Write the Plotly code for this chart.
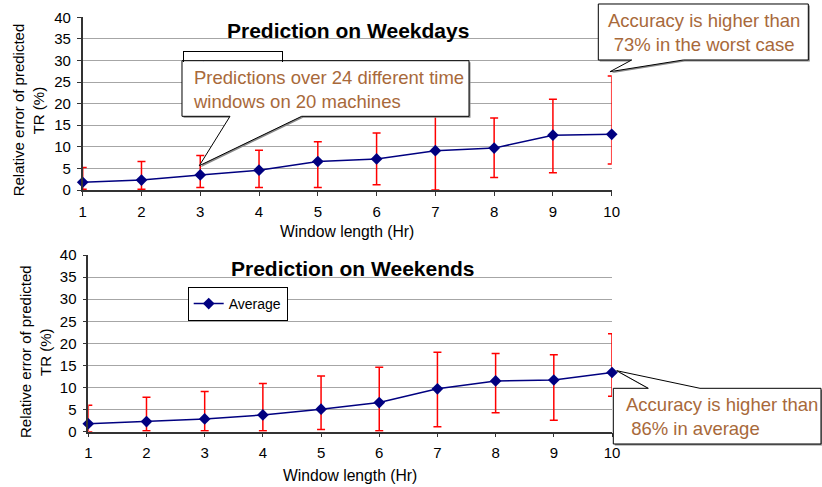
import plotly.graph_objects as go

# ---------------- data ----------------
window_hr = [1, 2, 3, 4, 5, 6, 7, 8, 9, 10]
weekday_avg = [1.8, 2.3, 3.5, 4.6, 6.6, 7.2, 9.1, 9.7, 12.7, 12.9]
weekday_hi = [5.2, 6.6, 8.0, 9.2, 11.2, 13.2, 17.2, 16.7, 21.0, 26.4]
weekday_lo = [0.2, 0.2, 0.6, 0.6, 0.6, 1.2, 0.0, 2.9, 4.0, 6.0]
weekend_avg = [1.8, 2.3, 2.9, 3.8, 5.1, 6.6, 9.7, 11.5, 11.7, 13.4]
weekend_hi = [6.0, 7.8, 9.1, 10.9, 12.6, 14.6, 18.0, 17.7, 17.4, 22.2]
weekend_lo = [0.0, 0.2, 0.2, 0.2, 0.5, 0.2, 1.1, 4.3, 2.6, 8.0]
y_ticks = [0, 5, 10, 15, 20, 25, 30, 35, 40]

W, H = 822, 487
FONT = "Arial, Liberation Sans, sans-serif"
TXT = "#A8693A"


def px(x, y):
    return x / W, 1 - y / H


def path(points, dx=0, dy=0):
    s = ""
    for i, (x, y) in enumerate(points):
        fx, fy = px(x + dx, y + dy)
        s += ("M" if i == 0 else "L") + f"{fx:.5f},{fy:.5f} "
    return s + "Z"


fig = go.Figure()

err_style = dict(type="data", symmetric=False, color="red", thickness=1.5, width=4)
line_style = dict(color="#000080", width=1.5)
marker_style = dict(symbol="diamond", size=9, color="#000080")

fig.add_trace(go.Scatter(
    x=window_hr, y=weekday_avg, name="Average", mode="lines+markers",
    line=line_style, marker=marker_style, cliponaxis=False,
    error_y=dict(array=[h - a for h, a in zip(weekday_hi, weekday_avg)],
                 arrayminus=[a - l for a, l in zip(weekday_avg, weekday_lo)], **err_style),
    xaxis="x", yaxis="y", legend="legend"))
fig.add_trace(go.Scatter(
    x=window_hr, y=weekend_avg, name="Average", mode="lines+markers",
    line=line_style, marker=marker_style, cliponaxis=False,
    error_y=dict(array=[h - a for h, a in zip(weekend_hi, weekend_avg)],
                 arrayminus=[a - l for a, l in zip(weekend_avg, weekend_lo)], **err_style),
    xaxis="x2", yaxis="y2", legend="legend2"))

xax = dict(range=[1, 10], tickmode="array", tickvals=window_hr, ticks="outside", ticklen=4,
           tickcolor="#333", showline=True, linecolor="#333", linewidth=1.5, showgrid=False,
           zeroline=False, tickfont=dict(family=FONT, size=15, color="black"),
           ticklabelstandoff=3, automargin=False)
yax = dict(range=[0, 40], tickmode="array", tickvals=y_ticks, ticks="outside", ticklen=4,
           tickcolor="#333", showline=True, linecolor="#333", linewidth=1.5, showgrid=True,
           gridcolor="#A6A6A6", gridwidth=1, zeroline=False,
           tickfont=dict(family=FONT, size=15, color="black"), ticklabelstandoff=3,
           automargin=False)

top_x0, top_y0 = px(82.7, 190)
top_x1, top_y1 = px(611.7, 17.3)
bot_x0, bot_y0 = px(88.3, 431.7)
bot_x1, bot_y1 = px(612, 255)

fig.update_layout(
    width=W, height=H, margin=dict(l=0, r=0, t=0, b=0, autoexpand=False),
    paper_bgcolor="white", plot_bgcolor="white",
    font=dict(family=FONT, size=15, color="black"),
    xaxis=dict(domain=[top_x0, top_x1], anchor="y", **xax),
    yaxis=dict(domain=[top_y0, top_y1], anchor="x", **yax),
    xaxis2=dict(domain=[bot_x0, bot_x1], anchor="y2", **xax),
    yaxis2=dict(domain=[bot_y0, bot_y1], anchor="x2", **yax),
    legend=dict(x=px(182.7, 0)[0], y=px(0, 51)[1], xanchor="left", yanchor="top",
                bordercolor="black", borderwidth=1, bgcolor="rgba(0,0,0,0)",
                font=dict(family=FONT, size=14), itemwidth=30, tracegroupgap=0),
    legend2=dict(x=px(187.7, 0)[0], y=px(0, 287)[1], xanchor="left", yanchor="top",
                 bordercolor="black", borderwidth=1, bgcolor="white",
                 font=dict(family=FONT, size=14), itemwidth=30, tracegroupgap=0),
    showlegend=True,
)

# ---------------- callouts ----------------
c1 = [(182, 60.7), (469, 60.7), (469, 116.3), (301.7, 116.3), (199.3, 165.7), (230, 116.3), (182, 116.3)]
c2 = [(598.3, 4), (808.3, 4), (808.3, 60), (683.3, 60), (610, 71.7), (631.7, 60), (598.3, 60)]
c3 = [(613.3, 388.3), (648.3, 388.3), (616.7, 370.7), (700, 388.3), (821, 388.3), (821, 444), (613.3, 444)]

shapes = []
for c in (c1, c2, c3):
    shapes.append(dict(type="path", xref="paper", yref="paper", path=path(c, 1.5, 1.5),
                       fillcolor="#8A8A8A", line=dict(width=0), layer="above"))
    shapes.append(dict(type="path", xref="paper", yref="paper", path=path(c),
                       fillcolor="white", line=dict(color="black", width=1), layer="above"))
fig.update_layout(shapes=shapes)

ann = []
# white cover hiding the weekday legend behind callout 1
cx, cy = px(183, 61.5)
ann.append(dict(xref="paper", yref="paper", x=cx, y=cy, xanchor="left", yanchor="top",
                text=" ", showarrow=False, bgcolor="white", width=284, height=53,
                borderpad=0, borderwidth=0))


def add_text(text, x, y, size, color="black", xanchor="center", align="center", bold=False, angle=0):
    fx, fy = px(x, y)
    ann.append(dict(xref="paper", yref="paper", x=fx, y=fy, xanchor=xanchor, yanchor="middle",
                    text=(f"<b>{text}</b>" if bold else text), showarrow=False, align=align,
                    textangle=angle, font=dict(family=FONT, size=size, color=color)))


add_text("Predictions over 24 different time<br>windows on 20 machines", 191, 89, 18.5,
         TXT, xanchor="left", align="left")
add_text("Accuracy is higher than<br>73% in the worst case", 704.3, 32.5, 18.5, TXT)
add_text("Accuracy is higher than<br>\u00a086% in average", 624, 416, 18.5, TXT,
         xanchor="left", align="left")

add_text("Prediction on Weekdays", 348, 30, 21, bold=True)
add_text("Prediction on Weekends", 353, 268, 21, bold=True)

add_text("Window length (Hr)", 347, 232, 15.7)
add_text("Window length (Hr)", 350, 475, 15.7)

add_text("Relative error of predicted", 18.3, 110, 15, angle=-90)
add_text("TR (%)", 38.3, 110, 15, angle=-90)
add_text("Relative error of predicted", 25, 352, 15, angle=-90)
add_text("TR (%)", 45, 352, 15, angle=-90)

fig.update_layout(annotations=ann)

fig.write_html("out.html", config={"displayModeBar": False},
               post_script="document.body.style.margin='0px';document.body.style.overflow='hidden';")
